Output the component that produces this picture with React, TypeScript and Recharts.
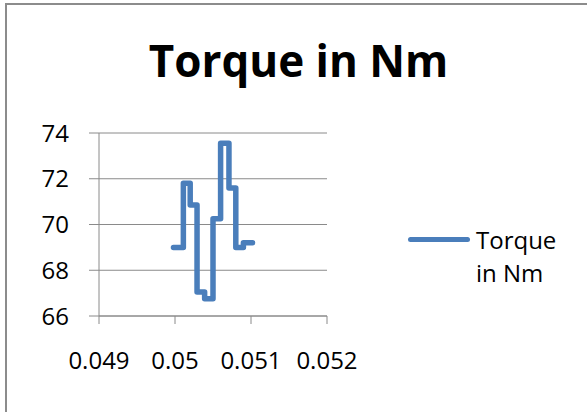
import React from "react";
import { CartesianGrid, Line, LineChart, XAxis, YAxis } from "recharts";

// time (s) and torque (Nm) samples
const timeValues = [0.04998, 0.05011, 0.0502, 0.05029, 0.05039, 0.0505, 0.0506, 0.05071, 0.0508, 0.0509, 0.05102];
const torqueValues = [69.0, 71.8, 70.85, 67.05, 66.75, 70.25, 73.55, 71.6, 69.0, 69.2, 69.2];

const xTicks = [0.049, 0.05, 0.051, 0.052];
const yTicks = [66, 68, 70, 72, 74];
const seriesName = "Torque in Nm";

const data = timeValues.map((t, i) => ({ t, torque: torqueValues[i] }));

const FONT = "'Open Sans', sans-serif";
const BLUE = "#4a7ebb";
const GRID = "#8a8a8a";

function LegendBox() {
  return (
    <div
      style={{
        position: "absolute",
        left: 408,
        top: 223,
        display: "flex",
        alignItems: "flex-start",
        fontFamily: FONT,
        fontSize: 24,
        color: "#000",
        lineHeight: "33px",
      }}
    >
      <div style={{ width: 62, height: 5, background: BLUE, borderRadius: 2.5, marginTop: 14, marginRight: 6 }} />
      <div>
        Torque
        <br />
        in Nm
      </div>
    </div>
  );
}

export default function App() {
  return (
    <div style={{ position: "absolute", left: 0, top: 0, width: 587, height: 412, overflow: "hidden", background: "#fff" }}>
      <div
        style={{
          position: "absolute",
          left: 5,
          top: 3,
          width: 700,
          height: 500,
          borderLeft: "2px solid #8c8c8c",
          borderTop: "2px solid #8c8c8c",
        }}
      />
      <div
        style={{
          position: "absolute",
          left: 0,
          top: 30,
          width: 597,
          textAlign: "center",
          fontFamily: FONT,
          fontWeight: 700,
          fontSize: 44,
          color: "#000",
        }}
      >
        {seriesName}
      </div>
      <LineChart
        width={587}
        height={412}
        data={data}
        margin={{ top: 133, right: 260, bottom: 36, left: 69 }}
        style={{ position: "absolute", left: 0, top: 0 }}
      >
        <CartesianGrid vertical={false} stroke={GRID} strokeWidth={1} />
        <XAxis
          dataKey="t"
          type="number"
          domain={[0.049, 0.052]}
          ticks={xTicks}
          interval={0}
          axisLine={{ stroke: GRID }}
          tickLine={{ stroke: GRID }}
          tickSize={8}
          tickMargin={28}
          tick={{ fill: "#000", fontSize: 24, fontFamily: FONT }}
          height={60}
        />
        <YAxis
          type="number"
          domain={[66, 74]}
          ticks={yTicks}
          interval={0}
          width={30}
          axisLine={{ stroke: GRID }}
          tickLine={{ stroke: GRID }}
          tickSize={10}
          tickMargin={20}
          tick={{ fill: "#000", fontSize: 24, fontFamily: FONT }}
        />
        <Line
          type="stepAfter"
          dataKey="torque"
          name={seriesName}
          stroke={BLUE}
          strokeWidth={5.5}
          strokeLinejoin="round"
          strokeLinecap="round"
          dot={false}
          activeDot={false}
          isAnimationActive={false}
        />
      </LineChart>
      <LegendBox />
    </div>
  );
}
